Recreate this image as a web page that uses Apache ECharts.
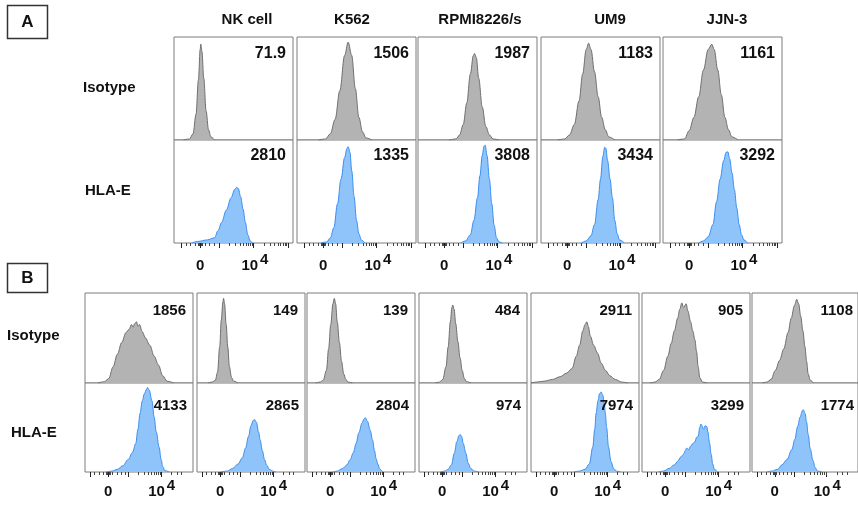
<!DOCTYPE html>
<html>
<head>
<meta charset="utf-8">
<script src="https://cdn.jsdelivr.net/npm/echarts@6/dist/echarts.min.js"></script>
<style>
  html, body { margin: 0; padding: 0; background: #fff; }
  #chart { width: 858px; height: 506px; }
</style>
</head>
<body>
<div id="chart"></div>
<script>
// ---- data ----
const cellLinesA = ['NK cell', 'K562', 'RPMI8226/s', 'UM9', 'JJN-3'];
const rowNames = ['Isotype', 'HLA-E'];
const mfiAIso = ['71.9', '1506', '1987', '1183', '1161'];
const mfiAHla = ['2810', '1335', '3808', '3434', '3292'];
const mfiBIso = ['1856', '149', '139', '484', '2911', '905', '1108'];
const mfiBHla = ['4133', '2865', '2804', '974', '7974', '3299', '1774'];
const tickLabels = ['0', '10^4'];

// histograms: [display channel (0-100), % of mode]
const histAIso = [
  [[8,0],[13,1],[16,6],[18.5,25],[20.5,58],[22,88],[22.5,93],[23.5,86],[25,60],[27,28],[29,10],[31,3],[34,0]],
  [[18,0],[24,1],[28,6],[32,20],[36,48],[40,82],[43,95],[46,82],[49,50],[52,22],[55,8],[58,2],[63,0]],
  [[26,0],[32,1],[35,5],[38,15],[41,36],[44,64],[46.5,82],[47.5,84],[49,80],[51,60],[54,32],[57,13],[60,5],[63,1],[68,0]],
  [[14,0],[20,1],[24,5],[28,15],[32,38],[35,64],[38,88],[40,94],[42,88],[45,66],[48,42],[51,22],[54,10],[57,3],[62,0]],
  [[12,0],[18,1],[22,9],[26,22],[30,42],[34,68],[38,88],[41,93],[43,88],[46,68],[49,44],[52,22],[55,10],[58,3],[63,0]]
];
const histAHla = [
  [[15,0],[20,1.5],[28,3],[34,5],[37,12],[40,20],[44,32],[48,44],[51,52],[52.5,54],[54,53],[56,45],[58,33],[60,20],[62,8],[64,2],[66,0]],
  [[20,0],[25,1],[28,5],[31,15],[34,38],[37,62],[40,83],[42,92],[43,93.5],[44.5,88],[46,70],[48,45],[50,22],[52,9],[54,3],[57,0]],
  [[36,0],[40,2],[44,8],[47,22],[50,44],[52,65],[54,85],[55.5,94],[56.5,95],[58,85],[60,62],[62,38],[64,17],[66,5],[68,1],[71,0]],
  [[34,0],[38,2],[42,7],[45,18],[48,42],[50,62],[52,84],[53.5,93],[54.5,92],[56,80],[58,62],[60,44],[62,22],[64,9],[66,3],[70,0]],
  [[30,0],[34,2],[38,6],[42,18],[45,40],[48,62],[51,80],[53,88],[54.5,88.5],[56,82],[58,68],[60,52],[62,34],[64,18],[66,8],[68,3],[71,0]]
];
const histBIso = [
  [[12,0],[18,1.5],[22,5],[26,18],[30,32],[34,45],[38,56],[41,60],[43,65],[44.5,62],[46,66],[47.7,68],[49,63],[50.5,65],[53,57],[56,50],[60,42],[64,30],[68,20],[72,8],[76,2],[82,0]],
  [[10,0],[14,1],[17,3],[19,12],[21,40],[22.5,70],[24,90],[24.6,94],[25.5,88],[27,65],[28.5,40],[30,18],[32,6],[34,2],[38,0]],
  [[8,0],[12,1],[15,3],[18,14],[20,38],[22,65],[24,88],[25.3,94],[26.5,88],[28,68],[30,45],[32,24],[34,10],[36,4],[38,1],[42,0]],
  [[15,0],[19,1],[22,4],[25,18],[27,40],[29,68],[30.5,84],[31.2,86.7],[32.5,82],[34,66],[36,46],[38,28],[40,14],[42,5],[44,1.5],[48,0]],
  [[0,0],[5,1],[12,2],[20,4],[27,7],[33,11],[38,16],[42,30],[45,42],[48,58],[50,65],[51.7,68],[53,63],[55,52],[58,42],[61.7,33],[65,22],[69,14],[73,8],[78,4],[84,1],[90,0]],
  [[8,0],[12,1],[16,4],[20,14],[24,30],[27,44],[30,58],[33,72],[35,82],[36.9,89],[38.5,84],[40.9,88],[42.5,80],[45,68],[47,58],[49,48],[50.5,35],[52,18],[53.5,6],[56,1],[60,0]],
  [[10,0],[14,1],[18,4],[22,14],[26,25],[30,38],[34,56],[37,72],[40,86],[42.2,93],[44,88],[46,74],[48,58],[50,40],[51.5,24],[53,10],[55,3],[58,0]]
];
const histBHla = [
  [[20,0],[25,1],[30,3],[35,7],[40,14],[44,22],[47,32],[49,48],[51,66],[53,80],[55,88],[57,93],[57.8,95],[59.5,92],[62,80],[64,62],[66,45],[68.6,28],[70.5,14],[72,6],[74,1.5],[78,0]],
  [[22,0],[28,1],[33,4],[38,9],[42,16],[45,27],[47.7,40],[50,52],[52,58],[53.2,59],[55,56],[57,45],[58.5,36],[60.5,24],[62.5,14],[64.6,7.5],[67,3],[70,1],[73,0]],
  [[24,0],[28,1],[33,4],[37,8],[40,14],[43,22],[45.4,32],[48,44],[51,55],[53,60],[54,61],[56,57],[58.5,47],[60.7,36],[62.5,24],[64,15],[65.5,9],[67.5,3],[70,0]],
  [[20,0],[24,1],[27,3],[30,8],[32.7,21],[35,34],[37,41],[38.2,42],[39.5,40],[41,32],[43.4,21],[45.5,10],[48,4],[51,1],[55,0]],
  [[40,0],[45,1],[50,3],[54,9],[57.2,28],[59,48],[60.3,66],[62,80],[63.5,88],[64.9,90],[66.5,86],[68,76],[68.8,66],[70,50],[71.8,28],[74,12],[76.5,4],[79,1],[83,0]],
  [[15,0],[20,1],[25,4],[30,8],[33,12],[36,17],[38.5,20],[40,24],[41.5,27],[43,25],[45,29],[47,32],[49,34],[50.5,39],[52,40],[53.5,50],[54.5,54],[55.5,52],[57,48],[58.5,52],[60,51],[61,45],[62.5,33],[64,20],[65.5,9],[67,3],[70,0]],
  [[14,0],[19,1],[24,3],[28.3,8],[33,14],[37.5,25],[40.5,37],[43,51],[45.5,62],[47.5,69],[48.3,70],[50,66],[51.5,56],[53,42],[55,26],[57.5,13],[59.5,5],[62,1],[66,0]]
];

// ---- axis decoration (display channel positions) ----
const axisA = {
  labelAt: [22, 68],
  major: [6, 22, 38, 67, 96],
  minor: [10, 14, 18, 20.5, 21, 21.5, 22.5, 23, 23.5, 26, 30, 34,
          46.7, 51.8, 55.5, 58.3, 60.6, 62.5, 64.2, 65.7,
          75.7, 80.8, 84.5, 87.3, 89.6, 91.5, 93.2, 94.7],
  margin: 8
};
const axisB = {
  labelAt: [21.5, 71],
  major: [5, 21.5, 40, 70.5],
  minor: [9, 13, 17, 20, 20.5, 21, 22, 22.5, 23, 25.5, 29.5, 33.5, 37,
          49.3, 54.8, 58.7, 61.7, 64.1, 66.2, 68, 69.6,
          80, 85.5, 89.5],
  margin: 5
};

// ---- layout ----
const FONT = '"Liberation Sans", Arial, Helvetica, sans-serif';
const A = { left: [174, 297, 418, 541, 663], width: 119, top: [37, 140], height: [103, 103] };
const B = { left: [85, 197, 307, 419, 531, 642, 752], width: 108, top: [293, 383], height: [90, 89] };

const GRAY = { line: '#6f6f6f', fill: '#b3b3b3' };
const BLUE = { line: '#3a8ef0', fill: '#8fc4fa' };

const grid = [], xAxis = [], yAxis = [], series = [], graphic = [];

function labelText(v, ax) {
  const i = ax.labelAt.indexOf(v);
  const t = i >= 0 ? tickLabels[i] : '';
  const p = t.split('^');
  return p.length > 1 ? '{b|' + p[0] + '}{sup|' + p[1] + '}' : '{b|' + t + '}';
}

function addCell(left, top, w, h, hist, col, ax) {
  const g = grid.length;
  grid.push({ left, top, width: w, height: h, show: true,
    borderColor: '#7d7d7d', borderWidth: 1, backgroundColor: '#fff' });
  yAxis.push({ gridIndex: g, type: 'value', min: 0, max: 100, show: false });
  const xi = xAxis.length;
  if (ax) {
    xAxis.push({
      gridIndex: g, type: 'value', min: 0, max: 100, position: 'bottom',
      axisLine: { show: false }, splitLine: { show: false },
      axisTick: { show: true, length: 5, customValues: ax.major, lineStyle: { color: '#222', width: 1 } },
      axisLabel: {
        show: true, customValues: ax.labelAt, margin: ax.margin,
        formatter: v => labelText(v, ax),
        rich: {
          b: { fontFamily: FONT, fontSize: 15, fontWeight: 'bold', color: '#111', lineHeight: 30 },
          sup: { fontFamily: FONT, fontSize: 15, fontWeight: 'bold', color: '#111', lineHeight: 18, padding: [0, 0, 12, 2] }
        }
      }
    });
    xAxis.push({
      gridIndex: g, type: 'value', min: 0, max: 100, position: 'bottom',
      axisLine: { show: false }, splitLine: { show: false }, axisLabel: { show: false },
      axisTick: { show: true, length: 3, customValues: ax.minor, lineStyle: { color: '#444', width: 1 } }
    });
  } else {
    xAxis.push({ gridIndex: g, type: 'value', min: 0, max: 100, show: false });
  }
  series.push({
    type: 'line', xAxisIndex: xi, yAxisIndex: g, data: hist,
    smooth: 0.35, smoothMonotone: 'x', symbol: 'none', silent: true,
    lineStyle: { color: col.line, width: 1 },
    areaStyle: { color: col.fill, opacity: 1 }
  });
}

function text(str, x, y, size, align) {
  graphic.push({ type: 'text', z: 100, style: {
    text: str, x, y, font: 'bold ' + size + 'px ' + FONT, fill: '#111',
    textAlign: align || 'left', textVerticalAlign: 'middle' } });
}

// panel A
A.left.forEach((l, c) => {
  addCell(l, A.top[0], A.width, A.height[0], histAIso[c], GRAY, null);
  addCell(l, A.top[1], A.width, A.height[1], histAHla[c], BLUE, axisA);
  text(mfiAIso[c], l + A.width - 7, A.top[0] + 17, 16, 'right');
  text(mfiAHla[c], l + A.width - 7, A.top[1] + 16, 16, 'right');
});
// panel B
B.left.forEach((l, c) => {
  addCell(l, B.top[0], B.width, B.height[0], histBIso[c], GRAY, null);
  addCell(l, B.top[1], B.width, B.height[1], histBHla[c], BLUE, axisB);
  text(mfiBIso[c], l + B.width - 7, B.top[0] + 18, 15, 'right');
  text(mfiBHla[c], l + B.width - 6, B.top[1] + 23, 15, 'right');
});

// column titles, row labels, panel letters
const titleX = [247, 352, 480, 610, 727];
cellLinesA.forEach((t, i) => text(t, titleX[i], 20, 15, 'center'));
text(rowNames[0], 83, 88, 15);
text(rowNames[1], 85, 191, 15);
text(rowNames[0], 7, 336, 15);
text(rowNames[1], 11, 433, 15);

graphic.push({ type: 'rect', z: 100, shape: { x: 7.5, y: 5.5, width: 40, height: 33 },
  style: { fill: '#fff', stroke: '#333', lineWidth: 1.5 } });
graphic.push({ type: 'rect', z: 100, shape: { x: 7.5, y: 263.5, width: 40, height: 29 },
  style: { fill: '#fff', stroke: '#333', lineWidth: 1.5 } });
graphic.push({ type: 'text', z: 101, style: { text: 'A', x: 27.5, y: 22.5, font: 'bold 17px ' + FONT,
  fill: '#111', textAlign: 'center', textVerticalAlign: 'middle' } });
graphic.push({ type: 'text', z: 101, style: { text: 'B', x: 27.5, y: 278.5, font: 'bold 17px ' + FONT,
  fill: '#111', textAlign: 'center', textVerticalAlign: 'middle' } });

const chart = echarts.init(document.getElementById('chart'));
chart.setOption({
  backgroundColor: '#fff',
  animation: false,
  grid, xAxis, yAxis, series, graphic
});
</script>
</body>
</html>
